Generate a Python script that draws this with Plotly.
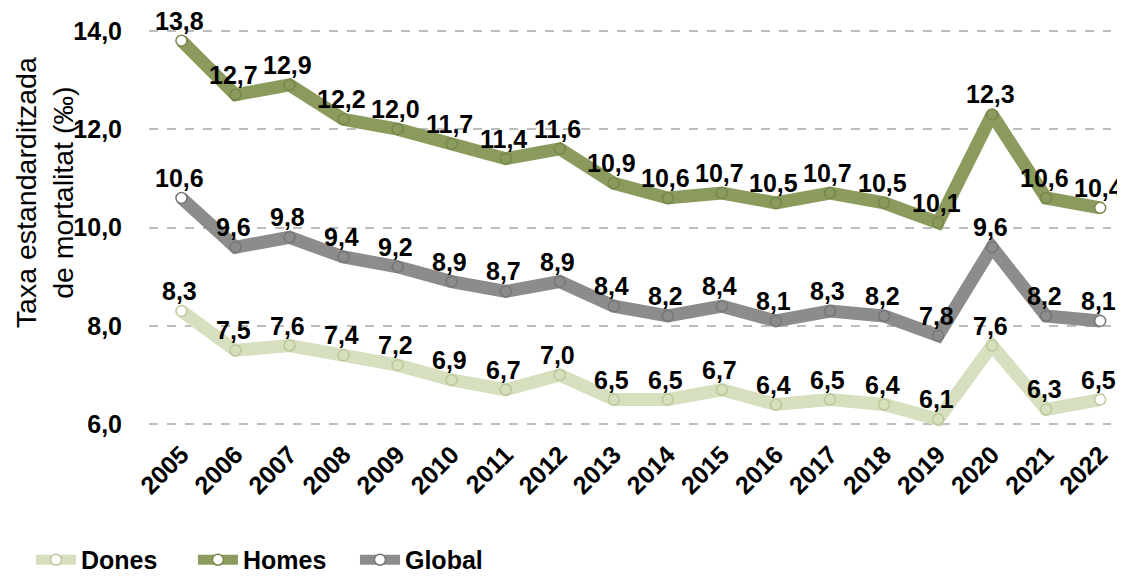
import plotly.graph_objects as go

years = list(range(2005, 2023))
year_labels = [str(y) for y in years]
dones = [8.3, 7.5, 7.6, 7.4, 7.2, 6.9, 6.7, 7.0, 6.5, 6.5, 6.7, 6.4, 6.5, 6.4, 6.1, 7.6, 6.3, 6.5]
homes = [13.8, 12.7, 12.9, 12.2, 12.0, 11.7, 11.4, 11.6, 10.9, 10.6, 10.7, 10.5, 10.7, 10.5, 10.1, 12.3, 10.6, 10.4]
global_ = [10.6, 9.6, 9.8, 9.4, 9.2, 8.9, 8.7, 8.9, 8.4, 8.2, 8.4, 8.1, 8.3, 8.2, 7.8, 9.6, 8.2, 8.1]
y_title = "Taxa estandarditzada<br>de mortalitat (‰)"

series = [
    ("Dones", dones, "#D6DFBE", "#BCC89A"),
    ("Homes", homes, "#8B9B5E", "#75874A"),
    ("Global", global_, "#8C8C8C", "#767676"),
]

FONT = "Liberation Sans, Arial, sans-serif"
FS = 25

fig = go.Figure()
for name, vals, col, edge in series:
    n = len(vals)
    fills = ["white" if i in (0, n - 1) else col for i in range(n)]
    fig.add_trace(go.Scatter(
        x=years, y=vals, name=name,
        mode="lines+markers",
        line=dict(color=col, width=13),
        marker=dict(symbol="circle", size=11, color=fills,
                    line=dict(color=edge, width=1.5)),
        cliponaxis=False,
    ))
    for x, v in zip(years, vals):
        fig.add_annotation(
            x=x, y=v, xref="x", yref="y", text=f"{v:.1f}".replace(".", ","),
            showarrow=False, xanchor="center", yanchor="bottom", yshift=4, xshift=-2,
            font=dict(family=FONT, size=FS, color="black", weight="bold"),
        )

fig.add_annotation(
    text=y_title, xref="paper", yref="paper", x=-0.109, y=0.5835,
    xanchor="center", yanchor="middle", textangle=-90, showarrow=False,
    font=dict(family=FONT, size=28.5, color="black"),
)

fig.update_layout(
    width=1117, height=569,
    margin=dict(l=141, r=14, t=13, b=143, autoexpand=False),
    plot_bgcolor="white", paper_bgcolor="white",
    separators=",.",
    font=dict(family=FONT, size=FS, color="black"),
    showlegend=True,
    legend=dict(orientation="h", x=-0.1227, xanchor="left", y=-0.305, yanchor="middle",
                font=dict(family=FONT, size=FS, color="black", weight="bold"),
                itemwidth=40, entrywidth=107, entrywidthmode="pixels",
                traceorder="normal"),
    xaxis=dict(
        range=[2004.4, 2022.2], tickmode="array", tickvals=years, ticktext=year_labels,
        tickangle=-45, showgrid=False, zeroline=False, showline=False, automargin=False,
        tickfont=dict(family=FONT, size=FS, color="black", weight="bold"),
    ),
    yaxis=dict(
        range=[5.8, 14.2], tickmode="array", tickvals=[6, 8, 10, 12, 14], tickformat=".1f",
        showgrid=True, gridcolor="#BDBDBD", griddash="dash", gridwidth=1.5,
        zeroline=False, showline=False, automargin=False,
        tickfont=dict(family=FONT, size=FS, color="black", weight="bold"),
        ticklabelstandoff=26,
    ),
)

fig.write_html("out.html")
